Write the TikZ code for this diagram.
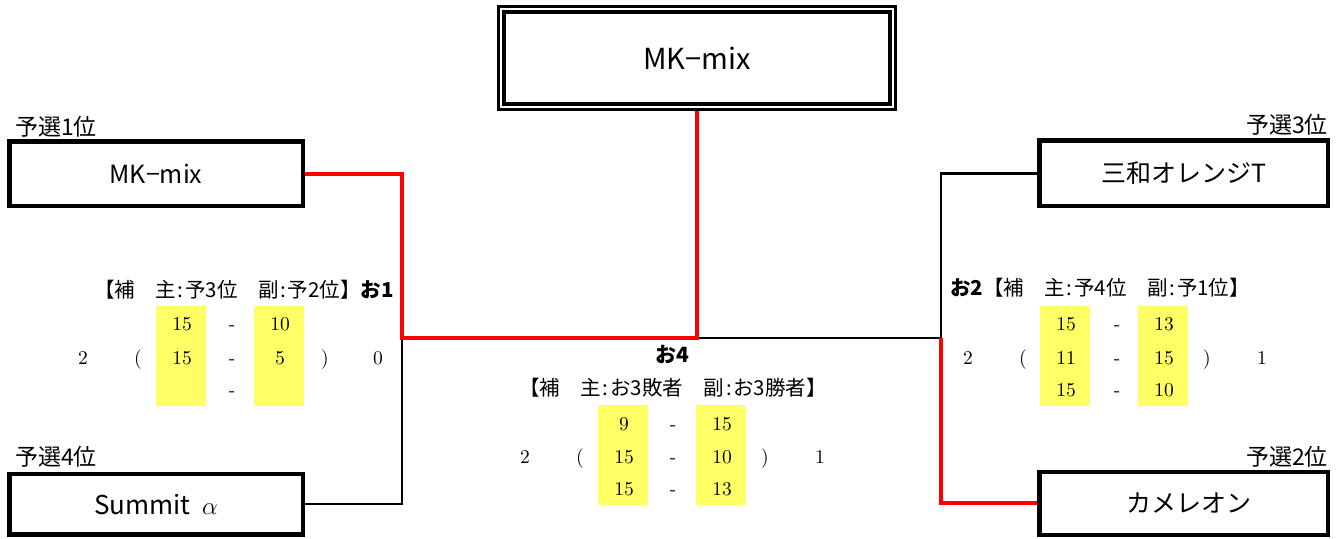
\documentclass[tikz,border=0pt]{standalone}
\usepackage{fontspec}
\newfontfamily\jp{Noto Sans CJK JP}
\newfontfamily\scf{lmroman10-regular.otf}
\usetikzlibrary{backgrounds}
\definecolor{yel}{RGB}{255,255,102}
\newcommand\hcolon{\makebox[0.45em]{:}}
\begin{document}
\begin{tikzpicture}[x=1pt,y=-1pt,
 team/.style={draw, line width=4.5pt, inner sep=0pt, font=\jp\fontsize{25}{28}\selectfont},
 rank/.style={inner sep=0pt, font=\jp\fontsize{23}{25}\selectfont},
 info/.style={inner sep=0pt, font=\jp\fontsize{20.5}{23}\selectfont},
 sc/.style={inner sep=0pt, anchor=base, font=\scf\fontsize{19.5}{21}\selectfont},
 win/.style={draw=red, line width=4pt, line join=miter},
 lose/.style={draw=black, line width=2.5pt, line join=miter},
]
\useasboundingbox (0,0) rectangle (1340,538);

% final box (double frame)
\node[draw, line width=2.5pt, minimum width=397pt, minimum height=103pt, inner sep=0pt] (topo) at (697,58) {};
\node[draw, line width=4pt, minimum width=386pt, minimum height=92pt, inner sep=0pt, font=\jp\fontsize{29}{31}\selectfont] (top) at (697,58) {MK−mix};

% teams
\node[team, minimum width=293.5pt, minimum height=64.5pt, font=\jp\fontsize{25}{28}\selectfont] (t1) at (156,173.8) {MK−mix};
\node[team, minimum width=293.5pt, minimum height=60.5pt, font=\jp\fontsize{26}{28}\selectfont] (t4) at (156,504.2) {Summit\hspace{0.45em}$\alpha$};
\node[team, minimum width=288.5pt, minimum height=65.5pt] (t3) at (1183.5,173.3) {三和オレンジT};
\node[team, minimum width=288.5pt, minimum height=63pt] (t2) at (1183.5,503.3) {\hspace{10pt}カメレオン};

% rank labels
\node[rank, anchor=west] (r1) at (15,127) {予選1位};
\node[rank, anchor=west] (r4) at (15,457) {予選4位};
\node[rank, anchor=east] (r3) at (1328,125) {予選3位};
\node[rank, anchor=east] (r2) at (1328,457) {予選2位};

% junctions
\coordinate (j1) at (402,338);
\coordinate (j2) at (941,338);
\coordinate (jc) at (697,338);

\begin{pgfonlayer}{background}
\fill[white] (0,0) rectangle (1340,538);
\fill[yel] (156,306) rectangle (206,406);
\fill[yel] (254,306) rectangle (304,406);
\fill[yel] (1040,306) rectangle (1090,406);
\fill[yel] (1138,306) rectangle (1188,406);
\fill[yel] (598,405) rectangle (648,505);
\fill[yel] (696,405) rectangle (746,505);
\draw[lose] (t4.east) -| (j1);
\draw[lose] (jc) -- (j2) |- (t3.west);
\draw[win] (t1.east) -| (j1) -- (jc) -- (topo.south);
\draw[win] (t2.west) -| (j2);
\end{pgfonlayer}

% match info
\node[info, anchor=east] (i1) at (394,290) {【補　主\hcolon 予3位　副\hcolon 予2位】{\bfseries お1}};
\node[info, anchor=west] (i2) at (950,288) {{\bfseries お2}【補　主\hcolon 予4位　副\hcolon 予1位】};
\node[info, font=\jp\bfseries\fontsize{21}{23}\selectfont] (i4) at (672.5,355) {お4};
\node[info] (i4b) at (673,388) {【補　主\hcolon お3敗者　副\hcolon お3勝者】};

% scores left
\node[sc] (L2) at (83,364) {2};
\node[sc] (Lp) at (138,364) {(};
\node[sc] (Lq) at (325,364) {)};
\node[sc] (Lr) at (378,364) {0};
\foreach \v/\x/\y/\n in {15/182/330/La1, 15/182/364/La2, -/232/330/Ld1, -/232/364/Ld2, -/232/396/Ld3, 10/280/330/Lb1, 5/280/364/Lb2}
  \node[sc] (\n) at (\x,\y) {\v};

% scores right
\node[sc] (R2) at (968,364) {2};
\node[sc] (Rp) at (1023,364) {(};
\node[sc] (Rq) at (1207,364) {)};
\node[sc] (Rr) at (1262,364) {1};
\foreach \v/\x/\y/\n in {15/1066/330/Ra1, 11/1066/364/Ra2, 15/1066/396/Ra3, -/1117/330/Rd1, -/1117/364/Rd2, -/1117/396/Rd3, 13/1164/330/Rb1, 15/1164/364/Rb2, 10/1164/396/Rb3}
  \node[sc] (\n) at (\x,\y) {\v};

% scores center
\node[sc] (C2) at (525,463.5) {2};
\node[sc] (Cp) at (580,463.5) {(};
\node[sc] (Cq) at (765,463.5) {)};
\node[sc] (Cr) at (820,463.5) {1};
\foreach \v/\x/\y/\n in {9/624/430/Ca1, 15/624/463.5/Ca2, 15/624/495.5/Ca3, -/673/430/Cd1, -/673/463.5/Cd2, -/673/495.5/Cd3, 15/722/430/Cb1, 10/722/463.5/Cb2, 13/722/495.5/Cb3}
  \node[sc] (\n) at (\x,\y) {\v};
\end{tikzpicture}
\end{document}
